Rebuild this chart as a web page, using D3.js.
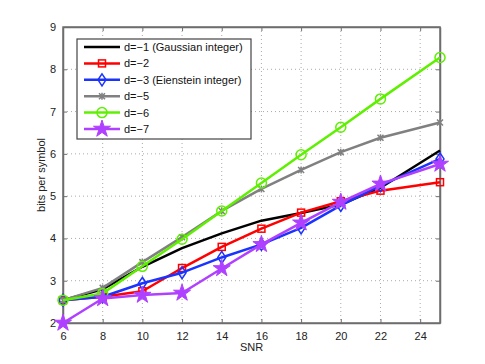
<!DOCTYPE html>
<html>
<head>
<meta charset="utf-8">
<script src="https://cdn.jsdelivr.net/npm/d3@7"></script>
<style>
  body { margin: 0; background: #fff; }
  text { font-family: "Liberation Sans", Arial, sans-serif; }
</style>
</head>
<body>
<div id="chart"></div>
<script>
var snr = [6, 8, 10, 12, 14, 16, 18, 20, 22, 25];
var d1 = [2.54, 2.8, 3.33, 3.77, 4.12, 4.42, 4.6, 4.8, 5.2, 6.08];
var d2 = [2.54, 2.62, 2.75, 3.3, 3.8, 4.23, 4.61, 4.88, 5.13, 5.33];
var d3v = [2.54, 2.62, 2.94, 3.19, 3.55, 3.86, 4.25, 4.78, 5.25, 5.88];
var d5 = [2.54, 2.83, 3.44, 4.03, 4.65, 5.17, 5.62, 6.04, 6.38, 6.74];
var d6 = [2.54, 2.7, 3.34, 3.98, 4.65, 5.31, 5.98, 6.63, 7.3, 8.28];
var d7 = [2.0, 2.58, 2.66, 2.71, 3.29, 3.86, 4.37, 4.86, 5.29, 5.76];
var xTicks = [6, 8, 10, 12, 14, 16, 18, 20, 22, 24];
var yTicks = [2, 3, 4, 5, 6, 7, 8, 9];

var series = [
  { name: "d=\u22121 (Gaussian integer)", values: d1, color: "#000000", marker: "none" },
  { name: "d=\u22122", values: d2, color: "#ff0000", marker: "square" },
  { name: "d=\u22123 (Eienstein integer)", values: d3v, color: "#1a33ff", marker: "diamond" },
  { name: "d=\u22125", values: d5, color: "#808080", marker: "x" },
  { name: "d=\u22126", values: d6, color: "#5ef000", marker: "circle" },
  { name: "d=\u22127", values: d7, color: "#b040ff", marker: "star" }
];

var svgWidth = 485, svgHeight = 364;
var margin = { top: 27, right: 45, bottom: 41, left: 63 };
var width = svgWidth - margin.left - margin.right;
var height = svgHeight - margin.top - margin.bottom;

var svg = d3.select("#chart").append("svg")
  .attr("width", svgWidth)
  .attr("height", svgHeight);

var g = svg.append("g")
  .attr("transform", `translate(${margin.left}, ${margin.top})`);

var x = d3.scaleLinear().domain([6, 25]).range([0, width]);
var y = d3.scaleLinear().domain([2, 9]).range([height, 0]);

// dotted grid
g.selectAll(".gx").data(xTicks.slice(1)).enter().append("line")
  .attr("x1", d => x(d)).attr("x2", d => x(d))
  .attr("y1", 0).attr("y2", height)
  .attr("stroke", "#aaa").attr("stroke-width", 1).attr("stroke-dasharray", "1,3");
g.selectAll(".gy").data(yTicks.slice(1, -1)).enter().append("line")
  .attr("y1", d => y(d)).attr("y2", d => y(d))
  .attr("x1", 0).attr("x2", width)
  .attr("stroke", "#aaa").attr("stroke-width", 1).attr("stroke-dasharray", "1,3");

// axes (ticks pointing inward)
g.append("g").attr("transform", `translate(0, ${height})`)
  .call(d3.axisBottom(x).tickValues(xTicks).tickFormat(d3.format("d"))
    .tickSizeInner(-4).tickSizeOuter(0).tickPadding(9));
g.append("g")
  .call(d3.axisLeft(y).tickValues(yTicks).tickFormat(d3.format("d"))
    .tickSizeInner(-4).tickSizeOuter(0).tickPadding(7));
// mirrored ticks on top and right
g.append("g").call(d3.axisTop(x).tickValues(xTicks).tickSizeInner(-4).tickSizeOuter(0).tickFormat(""));
g.append("g").attr("transform", `translate(${width}, 0)`)
  .call(d3.axisRight(y).tickValues(yTicks).tickSizeInner(-4).tickSizeOuter(0).tickFormat(""));

g.selectAll(".domain").attr("stroke", "#6e6e6e").attr("stroke-width", 1.5);
g.selectAll(".tick line").attr("stroke", "#6e6e6e");
g.selectAll(".tick text").attr("font-size", 11).attr("fill", "#222")
  .attr("font-family", "Liberation Sans, Arial, sans-serif");

g.append("rect").attr("width", width).attr("height", height)
  .attr("fill", "none").attr("stroke", "#6e6e6e").attr("stroke-width", 1.5);

// axis labels
g.append("text").attr("x", width / 2).attr("y", height + 28)
  .attr("text-anchor", "middle").attr("font-size", 11).attr("fill", "#222").text("SNR");
g.append("text").attr("transform", "rotate(-90)")
  .attr("x", -height / 2).attr("y", -18)
  .attr("text-anchor", "middle").attr("font-size", 11).attr("fill", "#222").text("bits per symbol");

function drawMarker(sel, type, color) {
  if (type === "square") {
    sel.append("rect").attr("x", -3.5).attr("y", -3.5).attr("width", 7).attr("height", 7)
      .attr("fill", "none").attr("stroke", color).attr("stroke-width", 1.5);
  } else if (type === "diamond") {
    sel.append("path").attr("d", "M0,-6L4,0L0,6L-4,0Z")
      .attr("fill", "none").attr("stroke", color).attr("stroke-width", 1.5);
  } else if (type === "circle") {
    sel.append("circle").attr("r", 5)
      .attr("fill", "none").attr("stroke", color).attr("stroke-width", 1.5);
  } else if (type === "x") {
    sel.append("path").attr("d", "M-3,-3L3,3M-3,3L3,-3M0,-3.5L0,3.5")
      .attr("fill", "none").attr("stroke", color).attr("stroke-width", 1.5);
  } else if (type === "star") {
    sel.append("path").attr("d", d3.symbol().type(d3.symbolStar).size(90)())
      .attr("fill", color).attr("stroke", color).attr("stroke-width", 1);
  }
}

var line = d3.line().x((d, i) => x(snr[i])).y(d => y(d));

var plot = g.append("g");
series.forEach(function(s) {
  plot.append("path").datum(s.values)
    .attr("d", line)
    .attr("fill", "none")
    .attr("stroke", s.color)
    .attr("stroke-width", 2.5)
    .attr("stroke-linejoin", "round");
  plot.selectAll(null).data(s.values).enter().append("g")
    .attr("transform", (d, i) => `translate(${x(snr[i])}, ${y(d)})`)
    .each(function() { drawMarker(d3.select(this), s.marker, s.color); });
});

// legend
var legend = svg.append("g").attr("transform", "translate(77, 39)");
legend.append("rect").attr("width", 174).attr("height", 100)
  .attr("fill", "#fff").attr("stroke", "#444").attr("stroke-width", 1.2);
series.forEach(function(s, i) {
  var row = legend.append("g").attr("transform", `translate(0, ${8 + i * 16.4})`);
  row.append("line").attr("x1", 7).attr("x2", 43).attr("y1", 0).attr("y2", 0)
    .attr("stroke", s.color).attr("stroke-width", 2.5);
  var m = row.append("g").attr("transform", "translate(25, 0)");
  drawMarker(m, s.marker, s.color);
  row.append("text").attr("x", 47).attr("y", 4).attr("font-size", 11).attr("fill", "#111").text(s.name);
});
</script>
</body>
</html>
